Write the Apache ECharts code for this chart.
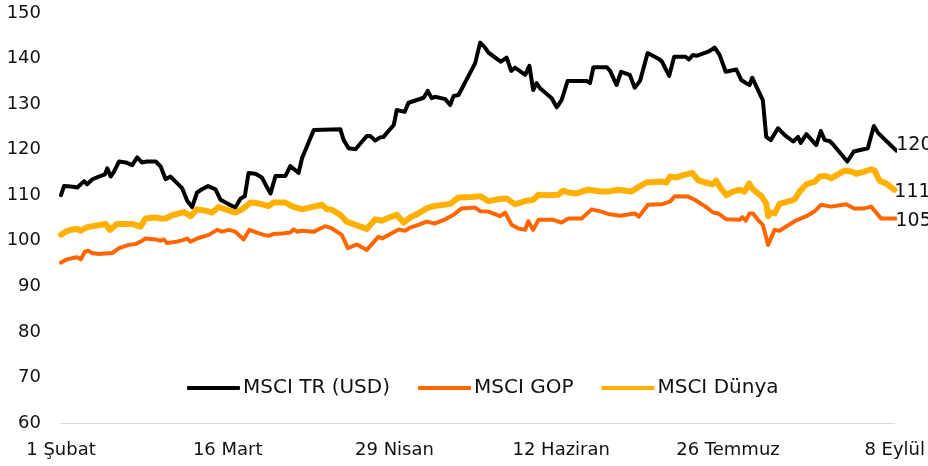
<!DOCTYPE html>
<html>
<head>
<meta charset="utf-8">
<script src="https://cdn.jsdelivr.net/npm/echarts@6/dist/echarts.min.js"></script>
<style>html,body{margin:0;padding:0;background:#fff}#c{width:928px;height:466px}</style>
</head>
<body>
<div id="c"></div>
<script>
// x tick labels (every 44 days starting 1 Feb 2020)
const tickLabels = ["1 Şubat", "16 Mart", "29 Nisan", "12 Haziran", "26 Temmuz", "8 Eylül"];
const seriesNames = ["MSCI TR (USD)", "MSCI GOP", "MSCI Dünya"];

// MSCI TR (USD): day offsets from 1 Feb, and index values
const trDays = [0,0.8,2.6,4.3,6.1,6.9,8.3,10,11.6,12.2,13.1,14,15.3,17.1,18.8,20.1,21.3,22.7,25,26.3,27.6,28.9,30.7,32,33.3,34.6,35.9,37.2,38.8,40.8,42.1,44.3,46,47.4,48.5,49.5,51.3,53,54.4,55.3,56.6,59.2,60.5,62.7,63.6,66.7,73.7,74.6,75.9,77.7,80.7,81.6,82.9,84.2,85.1,87.8,88.6,90.7,91.7,93.9,95.7,96.8,97.8,98.7,101.4,102.7,103.6,104.9,109.3,110.6,111.9,112.8,115.4,116.1,117.6,118.8,119.8,122.5,123.6,124.6,125.5,126.4,129.5,130.8,132.1,133.7,138.7,139.6,140.5,144,144.9,146.6,147.8,150.1,151.4,152.8,154.8,158,158.6,160.5,161.8,164.8,165.7,166.8,167.7,170.8,172.5,173.8,175.4,178.2,179.5,180.8,181.7,182.4,183.7,185.2,186.1,187.3,189.2,191,193.2,194.5,195.2,196.7,199.3,200.5,201.5,202.8,203.7,207.5,209.2,212.9,214.5,215.6,220.4];
const trVals = [110.0,112.0,111.9,111.7,113.1,112.4,113.5,114.1,114.6,115.9,114.1,115.2,117.4,117.2,116.6,118.3,117.2,117.4,117.4,116.3,113.5,114.1,112.6,111.5,108.8,107.4,110.6,111.3,112.0,111.3,109.0,108.0,107.3,109.3,109.8,114.9,114.7,113.9,111.7,110.4,114.2,114.2,116.4,114.9,118.1,124.3,124.5,122.1,120.3,120.1,123.0,123.0,122.0,122.7,122.8,125.4,128.7,128.3,130.3,130.9,131.4,132.9,131.3,131.6,131.1,129.8,131.8,132.0,139.0,143.5,142.4,141.3,139.7,139.3,140.2,137.3,138.0,136.4,138.4,133.1,134.6,133.5,131.3,129.3,130.9,135.1,135.1,134.6,138.1,138.1,137.3,134.2,137.1,136.4,133.6,135.1,141.2,139.8,139.3,136.2,140.4,140.4,139.8,140.8,140.6,141.5,142.4,140.8,137.1,137.6,135.3,134.6,134.2,135.8,133.5,130.9,122.8,122.1,124.7,123.2,121.8,122.8,121.5,123.4,121.0,124.1,122.1,121.9,121.2,117.4,119.6,120.3,125.2,123.7,119.8];

// MSCI GOP
const gopDays = [0,1.2,3.0,4.3,5.2,6.3,7.2,8.2,10.0,13.5,15.3,17.9,19.7,21.0,22.3,25.0,26.3,27.1,28.0,30.6,32.4,33.3,34.2,35.9,39.0,41.2,42.5,44.3,46.0,48.2,49.7,51.7,53.5,54.8,56.1,58.3,60.5,61.4,62.3,63.6,66.7,69.7,71.5,74.1,75.7,78.1,80.7,83.8,84.7,86.9,89.1,90.8,92.1,94.3,96.5,98.7,101.4,103.6,105.7,109.3,110.6,112.8,115.9,117.2,118.9,120.7,122.5,123.3,124.6,126.0,129.9,132.1,133.9,137.4,140.0,142.6,144.4,147.5,151.4,152.5,154.9,158.4,160.7,162.0,165.5,167.2,169.9,172.1,173.4,175.6,179.1,179.8,180.7,181.7,182.6,183.9,185.2,186.6,188.3,189.6,193.6,196.7,198.9,200.6,203.2,207.2,209.3,212.0,213.8,216.4,220.2];
const gopVals = [95.2,95.8,96.2,96.4,95.9,97.6,97.8,97.3,97.1,97.3,98.4,99.1,99.3,99.8,100.5,100.3,100.0,100.3,99.5,99.8,100.2,100.5,99.8,100.5,101.3,102.4,102.0,102.4,102.0,100.3,102.4,101.8,101.3,101.1,101.5,101.6,101.8,102.5,102.0,102.2,102.0,103.2,102.7,101.3,98.4,99.2,98.0,100.9,100.5,101.5,102.5,102.2,102.9,103.5,104.2,103.8,104.7,105.7,107.1,107.3,106.5,106.4,105.4,106.2,103.5,102.7,102.4,104.3,102.4,104.6,104.6,104.0,104.9,104.9,106.9,106.4,105.9,105.5,106.0,105.3,107.9,108.0,108.6,109.8,109.7,109.0,107.6,106.2,106.0,104.7,104.6,105.2,104.4,106.0,106.0,104.6,103.5,99.1,102.4,102.2,104.3,105.4,106.5,107.9,107.5,108.0,107.1,107.1,107.5,104.9,104.9];

// MSCI Dünya
const worldDays = [0,1.2,2.6,4.3,5.2,6.9,9.1,11.8,12.9,14.8,18.8,21.0,22.3,25.0,26.3,27.6,29.3,32.4,34.2,35.9,38.1,39.9,41.6,43.8,46.0,47.8,50.0,52.2,54.8,56.1,59.2,60.9,63.6,66.7,68.9,70.2,71.5,73.7,75.4,77.7,80.7,82.9,84.7,86.9,88.6,90.4,92.1,94.3,96.5,98.3,102.7,104.9,108.4,110.6,112.8,115.4,117.6,119.8,122.9,124.6,126.0,128.6,131.2,132.5,133.9,136.0,137.4,139.1,142.6,144.4,147.0,150.5,152.8,154.5,158.4,159.8,160.7,162.4,164.2,166.6,168.1,169.9,171.9,172.9,173.8,175.6,177.3,179.1,180.4,181.6,182.6,184.8,186.1,186.6,187.4,188.3,189.6,192.7,193.6,194.9,196.7,198.9,200.2,201.9,203.2,206.8,208.5,209.8,212.0,213.8,214.7,216.0,217.7,219.9];
const worldVals = [101.3,102.0,102.4,102.6,102.2,103.0,103.3,103.7,102.4,103.7,103.7,103.1,104.9,105.1,104.9,104.9,105.6,106.3,105.4,106.9,106.6,106.2,107.4,106.8,106.2,106.9,108.4,108.2,107.6,108.4,108.4,107.6,106.9,107.5,107.9,106.9,106.8,105.7,104.2,103.5,102.6,104.7,104.4,105.2,105.7,104.0,105.1,106.0,107.1,107.6,108.1,109.5,109.6,109.8,108.7,109.1,109.3,108.0,108.8,109.0,110.1,110.0,110.1,111.0,110.6,110.4,110.8,111.2,110.8,110.8,111.2,110.8,112.0,112.8,113.0,112.8,114.1,113.9,114.4,114.9,113.3,112.8,112.4,113.2,111.9,110.0,110.8,111.2,110.8,112.6,111.3,109.8,108.2,105.4,106.2,106.0,108.1,108.8,109.1,110.8,112.4,113.0,114.1,114.2,113.7,115.4,115.2,114.7,115.2,115.7,115.4,113.2,112.6,111.2];

const yTicks = {min: 60, max: 150, step: 10};
const xSpan = {min: 0, max: 220, step: 44};

function pairs(d, v) { return d.map((x, i) => [x, v[i]]); }

const FONT = 'DejaVu Sans';
const chart = echarts.init(document.getElementById('c'), null, {renderer: 'canvas'});

function mkSeries(name, days, vals, color, width, labelOffset) {
  return {
    name: name,
    type: 'line',
    data: pairs(days, vals),
    showSymbol: false,
    symbol: 'none',
    smooth: false,
    animation: false,
    lineStyle: {color: color, width: width, cap: 'round', join: 'round'},
    itemStyle: {color: color},
    endLabel: {
      show: true,
      formatter: p => Math.round(p.value[1]).toString(),
      color: '#111',
      fontFamily: FONT,
      fontSize: 19,
      distance: 0,
      offset: labelOffset
    }
  };
}

chart.setOption({
  animation: false,
  grid: {left: 61, right: 31, top: 13, bottom: 43, containLabel: false},
  legend: {
    data: seriesNames,
    top: 373,
    left: 182,
    itemWidth: 53,
    itemHeight: 4,
    itemGap: 28,
    icon: 'roundRect',
    textStyle: {fontFamily: FONT, fontSize: 20, color: '#111', padding: [0, 0, 0, -2]}
  },
  xAxis: {
    type: 'value',
    min: xSpan.min, max: xSpan.max, interval: xSpan.step,
    axisLine: {show: true, lineStyle: {color: '#d9d9d9', width: 1}},
    axisTick: {show: false},
    splitLine: {show: false},
    axisLabel: {
      fontFamily: FONT, fontSize: 18, color: '#111', margin: 18,
      formatter: v => tickLabels[Math.round(v / xSpan.step)] || ''
    }
  },
  yAxis: {
    type: 'value',
    min: yTicks.min, max: yTicks.max, interval: yTicks.step,
    axisLine: {show: false},
    axisTick: {show: false},
    splitLine: {show: false},
    axisLabel: {fontFamily: FONT, fontSize: 18, color: '#111', margin: 20}
  },
  series: [
    mkSeries(seriesNames[0], trDays, trVals, '#000000', 4, [0, -6]),
    mkSeries(seriesNames[1], gopDays, gopVals, '#FF6600', 4, [0, 3]),
    mkSeries(seriesNames[2], worldDays, worldVals, '#FFB000', 6, [0, 2])
  ]
});
</script>
</body>
</html>
